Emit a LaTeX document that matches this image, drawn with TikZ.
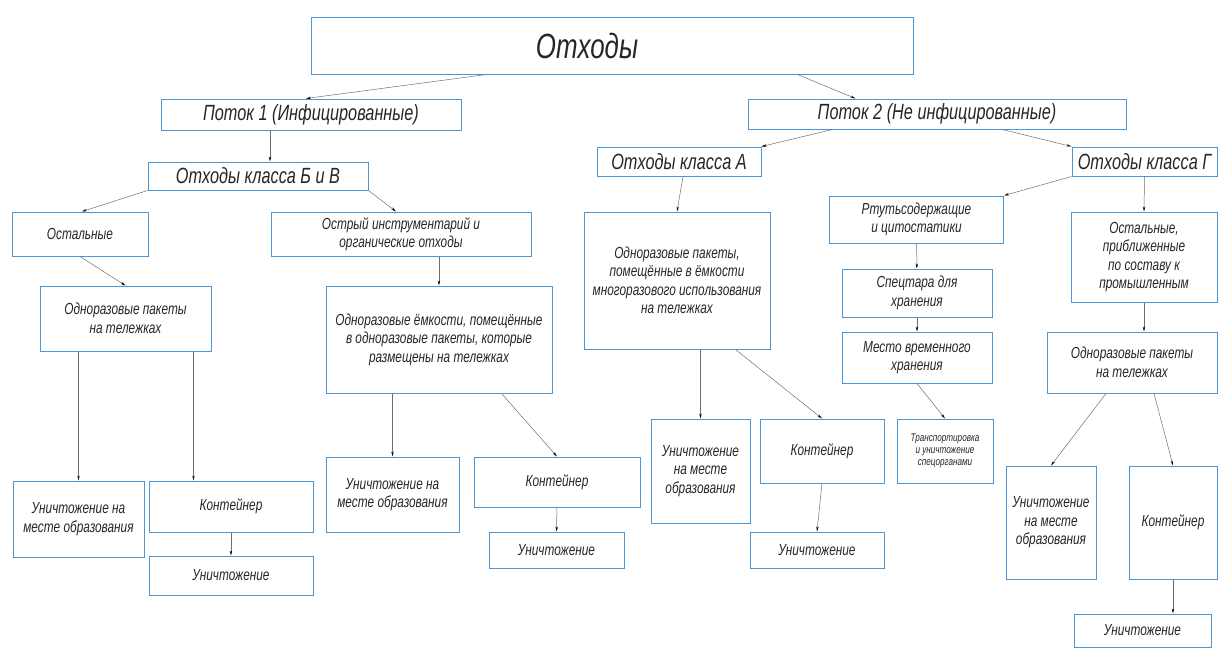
\documentclass[tikz,border=0pt]{standalone}
\usepackage{fontspec}
\setmainfont{Liberation Sans}[FakeStretch=0.74]
\usetikzlibrary{arrows.meta}
\definecolor{bblue}{RGB}{75,150,215}
\definecolor{lgray}{RGB}{110,110,110}

\begin{document}
\begin{tikzpicture}[x=1pt, y=-1pt,
  box/.style={draw=bblue, line width=1pt, align=center, inner sep=1pt, text=black!85,
    font=\itshape\fontsize{16}{18.5}\selectfont},
  sz/.style 2 args={minimum width=#1pt, minimum height=#2pt},
  big/.style={font=\itshape\fontsize{22}{24}\selectfont},
  arr/.style={draw=lgray, line width=0.5pt, -{Stealth[length=5pt, width=2.4pt, color=black]}}]
  \useasboundingbox (0,0) rectangle (1218,648);

  \node[box, font=\itshape\fontsize{35}{40}\selectfont, sz={602}{57}] (root) at (612,45.5) {Отходы\hspace*{50pt}};
  \node[box, big, sz={300}{31}] (p1) at (311,114.5) {Поток 1 (Инфицированные)};
  \node[box, big, sz={378}{30}] (p2) at (937,114) {Поток 2 (Не инфицированные)};
  \node[box, big, sz={220}{28}] (bv) at (258,176) {Отходы класса Б и В};
  \node[box, big, sz={164}{29}] (ka) at (679,161.5) {Отходы класса А};
  \node[box, big, sz={145}{29}] (kg) at (1144.5,161.5) {Отходы класса Г};

  \node[box, sz={136}{44}] (ost1) at (80,234) {Остальные};
  \node[box, sz={260}{44}] (ostr) at (401,234) {Острый инструментарий и\\органические отходы};
  \node[box, sz={171}{65}] (pak1) at (125.5,318.5) {Одноразовые пакеты\\на тележках};
  \node[box, sz={226}{107}] (emk) at (439,339.5) {Одноразовые ёмкости, помещённые\\в одноразовые пакеты, которые\\размещены на тележках};
  \node[box, sz={186}{137}] (mnog) at (677,280.5) {Одноразовые пакеты,\\помещённые в ёмкости\\многоразового использования\\на тележках};
  \node[box, sz={174}{47}] (rtut) at (916.5,219.5) {Ртутьсодержащие\\и цитостатики};
  \node[box, sz={150}{48}] (spec) at (917,293) {Спецтара для\\хранения};
  \node[box, sz={150}{51}] (mesto) at (917,357.5) {Место временного\\хранения};
  \node[box, sz={96}{64}, font=\itshape\fontsize{11}{12}\selectfont] (trans) at (945,451) {Транспортировка\\и уничтожение\\спецорганами};
  \node[box, sz={146}{90}] (ostG) at (1144,257) {Остальные,\\приближенные\\по составу к\\промышленным};
  \node[box, sz={170}{61}] (pak2) at (1132,362.5) {Одноразовые пакеты\\на тележках};

  \node[box, sz={131}{76}] (un1) at (78.5,519) {Уничтожение на\\месте образования};
  \node[box, sz={164}{51}] (kont1) at (231,506.5) {Контейнер};
  \node[box, sz={164}{39}] (unz1) at (231,575.5) {Уничтожение};
  \node[box, sz={133}{75}] (un2) at (392.5,494.5) {Уничтожение на\\месте образования};
  \node[box, sz={166}{50}] (kont2) at (557,482) {Контейнер};
  \node[box, sz={135}{36}] (unz2) at (556.5,550) {Уничтожение};
  \node[box, sz={99}{104}] (un3) at (700.5,471) {Уничтожение\\на месте\\образования};
  \node[box, sz={124}{64}] (kont3) at (822,451) {Контейнер};
  \node[box, sz={134}{36}] (unz3) at (817,550) {Уничтожение};
  \node[box, sz={90}{113}] (un4) at (1051,522.5) {Уничтожение\\на месте\\образования};
  \node[box, sz={88}{113}] (kont4) at (1173,522.5) {Контейнер};
  \node[box, sz={137}{33}] (unz4) at (1142.5,630.5) {Уничтожение};

  \draw[arr] ([xshift=176pt]root.south west) -- ([xshift=-5pt]p1.north);
  \draw[arr] ([xshift=-116pt]root.south east) -- ([xshift=108pt]p2.north west);
  \draw[arr] ([xshift=-41pt]p1.south) -- ([xshift=12pt]bv.north);
  \draw[arr] ([xshift=85pt]p2.south west) -- (ka.north east);
  \draw[arr] ([xshift=-124pt]p2.south east) -- (kg.north west);
  \draw[arr] (bv.south west) -- ([xshift=2pt]ost1.north);
  \draw[arr] (bv.south east) -- ([xshift=-5pt]ostr.north);
  \draw[arr] (ost1.south) -- (pak1.north);
  \draw[arr] (emk.north |- ostr.south) -- (emk.north);
  \draw[arr] (un1.north |- pak1.south) -- (un1.north);
  \draw[arr] ([xshift=154pt]pak1.south west) -- ([xshift=45pt]kont1.north west);
  \draw[arr] (kont1) -- (unz1);
  \draw[arr] (un2.north |- emk.south) -- (un2.north);
  \draw[arr] ([xshift=-51pt]emk.south east) -- (kont2.north);
  \draw[arr] (kont2) -- (unz2);
  \draw[arr] ([xshift=4pt]ka.south) -- (mnog.north);
  \draw[arr] (un3.north |- mnog.south) -- (un3.north);
  \draw[arr] ([xshift=-35pt]mnog.south east) -- (kont3.north);
  \draw[arr] (kont3.south) -- (unz3.north);
  \draw[arr] (kg.south west) -- (rtut.north east);
  \draw[arr] (kg.south) -- (ostG.north);
  \draw[arr] (rtut) -- (spec);
  \draw[arr] (spec) -- (mesto);
  \draw[arr] (mesto.south) -- (trans.north);
  \draw[arr] (ostG.south) -- (ostG.south |- pak2.north);
  \draw[arr] ([xshift=-26pt]pak2.south) -- (un4.north);
  \draw[arr] ([xshift=22pt]pak2.south) -- (kont4.north);
  \draw[arr] (kont4.south) -- (kont4.south |- unz4.north);
\end{tikzpicture}
\end{document}
